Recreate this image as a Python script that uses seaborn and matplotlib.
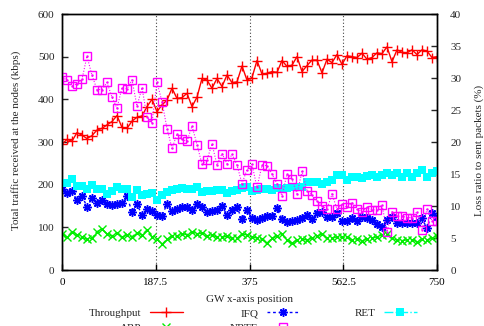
import matplotlib
matplotlib.use("Agg")
import matplotlib.pyplot as plt
import seaborn as sns

# ---------------- data ----------------
gw_x = list(range(0, 751, 10))

throughput = [295, 306, 302, 322, 316, 308, 315, 328, 332, 340,
              348, 362, 334, 332, 349, 358, 361, 383, 400, 371,
              387, 398, 426, 402, 404, 414, 383, 405, 449, 445,
              426, 449, 430, 457, 439, 441, 478, 445, 451, 491,
              459, 461, 465, 463, 491, 477, 480, 500, 465, 479,
              492, 492, 462, 494, 486, 505, 482, 502, 500, 498,
              508, 494, 498, 509, 507, 523, 488, 516, 510, 509,
              516, 505, 516, 513, 498, 500]

ifq = [12.6, 12.1, 12.3, 10.9, 11.56, 9.9, 11.2, 10.5, 10.9, 10.26,
       10.16, 10.26, 10.5, 11.56, 9.0, 10.26, 8.6, 9.5, 9.2, 8.6,
       8.5, 10.3, 9.2, 9.5, 9.8, 9.9, 9.4, 10.3, 9.8, 9.1,
       9.2, 9.4, 10.0, 8.6, 9.3, 9.8, 7.9, 9.3, 8.2, 7.8,
       8.07, 8.44, 8.44, 9.64, 7.92, 7.55, 7.71, 7.8, 8.07, 8.6,
       7.92, 8.85, 9.1, 8.23, 8.23, 8.96, 7.71, 7.71, 8.07, 7.71,
       8.23, 8.07, 7.8, 7.19, 6.67, 7.8, 8.23, 7.29, 7.4, 7.4,
       7.4, 7.4, 8.07, 6.5, 8.96, 8.23]

ret = [13.65, 13.65, 14.2, 13.1, 13.1, 12.6, 13.3, 12.6, 12.6, 11.9,
       12.4, 12.9, 12.6, 12.6, 11.45, 12.5, 11.7, 11.8, 12.0, 10.9,
       11.7, 12.2, 12.5, 12.6, 12.8, 12.6, 12.6, 13.0, 12.2, 12.4,
       12.3, 12.5, 12.5, 12.1, 12.4, 12.5, 12.8, 12.9, 12.4, 12.5,
       12.6, 12.6, 12.5, 12.8, 12.6, 12.8, 12.9, 12.9, 13.0, 13.8,
       13.8, 13.8, 13.5, 13.8, 14.0, 14.8, 14.8, 14.1, 14.5, 14.6,
       14.3, 14.7, 14.8, 14.5, 14.8, 15.1, 14.8, 15.1, 14.5, 15.2,
       14.5, 15.1, 15.7, 14.5, 15.2, 15.4]

arp = [5.63, 5.1, 6.0, 5.5, 5.1, 4.8, 4.97, 6.0, 6.4, 5.63,
       5.3, 5.8, 5.1, 5.5, 5.2, 5.8, 5.5, 6.25, 5.2, 4.8,
       4.0, 4.8, 5.3, 5.3, 5.7, 5.5, 6.0, 5.6, 5.8, 5.3,
       5.5, 5.1, 5.1, 5.3, 4.95, 4.95, 5.6, 5.5, 5.2, 5.0,
       4.8, 4.2, 4.95, 5.3, 5.6, 4.7, 4.17, 4.7, 4.8, 4.7,
       4.95, 5.3, 5.6, 4.95, 4.95, 5.2, 5.1, 5.2, 4.7, 4.8,
       4.6, 4.8, 4.95, 5.2, 5.47, 5.6, 4.95, 4.7, 4.6, 4.7,
       4.7, 4.43, 4.8, 4.7, 4.95, 5.3]

nrte = [30.1, 29.7, 28.75, 29.1, 29.8, 33.4, 30.4, 28.2, 28.2, 29.3,
        27.0, 25.3, 28.5, 28.3, 29.7, 25.6, 28.5, 23.9, 23.0, 29.3,
        26.3, 22.1, 19.0, 21.2, 20.4, 20.1, 22.5, 19.6, 16.5, 17.2,
        19.7, 16.4, 18.2, 16.6, 18.1, 16.4, 13.5, 15.7, 16.5, 12.9,
        16.4, 16.3, 15.0, 13.5, 11.6, 15.0, 14.2, 11.9, 15.4, 12.4,
        11.7, 10.8, 10.0, 9.5, 11.9, 9.5, 10.3, 9.8, 10.5, 9.5,
        9.1, 9.8, 9.4, 9.4, 10.2, 6.0, 9.1, 8.4, 8.4, 8.2,
        8.2, 9.1, 6.25, 9.5, 7.7, 7.7]

x_ticks = [0, 187.5, 375, 562.5, 750]
x_ticklabels = ["0", "187.5", "375", "562.5", "750"]
left_ticks = [0, 100, 200, 300, 400, 500, 600]
right_ticks = [0, 5, 10, 15, 20, 25, 30, 35, 40]
series_labels = ["Throughput", "IFQ", "RET", "ARP", "NRTE"]

# ---------------- style ----------------
sns.set_style("ticks")
plt.rcParams["font.family"] = ["Liberation Serif", "DejaVu Serif"]
plt.rcParams["font.size"] = 8

W, H = 484, 326
fig = plt.figure(figsize=(W / 100, H / 100), dpi=100)
L, R, T, B = 62, 437, 14, 270
ax = fig.add_axes([L / W, 1 - B / H, (R - L) / W, (B - T) / H])
ax2 = ax.twinx()

# Throughput (left axis)
sns.lineplot(x=gw_x, y=throughput, ax=ax, color="#ff0000", linewidth=1,
             marker="+", markersize=6.5, markeredgewidth=1,
             markeredgecolor="#ff0000", legend=False)
h_thr = ax.get_lines()[-1]

# loss ratios (right axis)
sns.lineplot(x=gw_x, y=ifq, ax=ax2, color="#0000ff", linewidth=1,
             linestyle=(0, (2, 2)), marker=(8, 2, 0), markersize=6,
             markeredgewidth=1.1, markeredgecolor="#0000ff", legend=False)
h_ifq = ax2.get_lines()[-1]
sns.lineplot(x=gw_x, y=ret, ax=ax2, color="#00ffff", linewidth=1,
             linestyle="-.", marker="s", markersize=5.8,
             markeredgewidth=0, markerfacecolor="#00ffff", legend=False)
h_ret = ax2.get_lines()[-1]
sns.lineplot(x=gw_x, y=arp, ax=ax2, color="#00ee00", linewidth=1,
             linestyle=(0, (4, 2)), marker="x", markersize=5.5,
             markeredgewidth=1, markeredgecolor="#00ee00", legend=False)
h_arp = ax2.get_lines()[-1]
sns.lineplot(x=gw_x, y=nrte, ax=ax2, color="#ff00ff", linewidth=0.8,
             linestyle=(0, (1, 1.5)), marker="s", markersize=5.5,
             markeredgewidth=1, markerfacecolor="none",
             markeredgecolor="#ff00ff", legend=False)
h_nrte = ax2.get_lines()[-1]
ax2.plot(gw_x, nrte, linestyle="none", marker=".", markersize=1.5,
         color="#ff00ff")

# axes
ax.set_xlim(0, 750)
ax.set_ylim(0, 600)
ax2.set_ylim(0, 40)
ax.set_xticks(x_ticks)
ax.set_xticklabels(x_ticklabels)
ax.set_yticks(left_ticks)
ax2.set_yticks(right_ticks)
ax.set_xlabel("")
ax.set_ylabel("")
ax2.set_ylabel("")
ax.grid(axis="x", linestyle=(0, (1, 2)), color="#444444", linewidth=0.8)
ax.grid(axis="y", visible=False)
ax2.grid(False)
ax.tick_params(axis="x", direction="in", length=4, width=1, pad=5.5,
               top=False, colors="black", labelsize=8)
ax.tick_params(axis="y", direction="in", length=4, width=1, pad=5.5,
               right=False, labelsize=8)
ax2.tick_params(axis="y", direction="in", length=4, width=1, pad=9.5,
                left=False, labelsize=8)
for a in (ax, ax2):
    for s in a.spines.values():
        s.set_visible(True)
        s.set_color("black")
        s.set_linewidth(1)

fig.text(16 / W, 1 - 140 / H, "Total traffic received at the nodes (kbps)",
         rotation=90, ha="center", va="center", fontsize=8)
fig.text(479 / W, 1 - 150 / H, "Loss ratio to sent packets (%)",
         rotation=90, ha="center", va="center", fontsize=8)
fig.text(249.5 / W, 1 - 299 / H, "GW x-axis position",
         ha="center", va="center", fontsize=8)

# legend in three right-aligned columns (second row clipped by the figure edge, as in the reference)
cols = [([h_thr, h_arp], [series_labels[0], series_labels[3]], 183),
        ([h_ifq, h_nrte], [series_labels[1], series_labels[4]], 300),
        ([h_ret], [series_labels[2]], 417)]
for hs, ls, xr in cols:
    fig.legend(handles=hs, labels=ls, loc="upper right",
               bbox_to_anchor=(xr / W, 1 - 308.5 / H), markerfirst=False,
               frameon=False, handlelength=3.0, handletextpad=0.75,
               borderpad=0, borderaxespad=0, labelspacing=0.45,
               fontsize=8, numpoints=1)

fig.savefig("out.png", dpi=100)
